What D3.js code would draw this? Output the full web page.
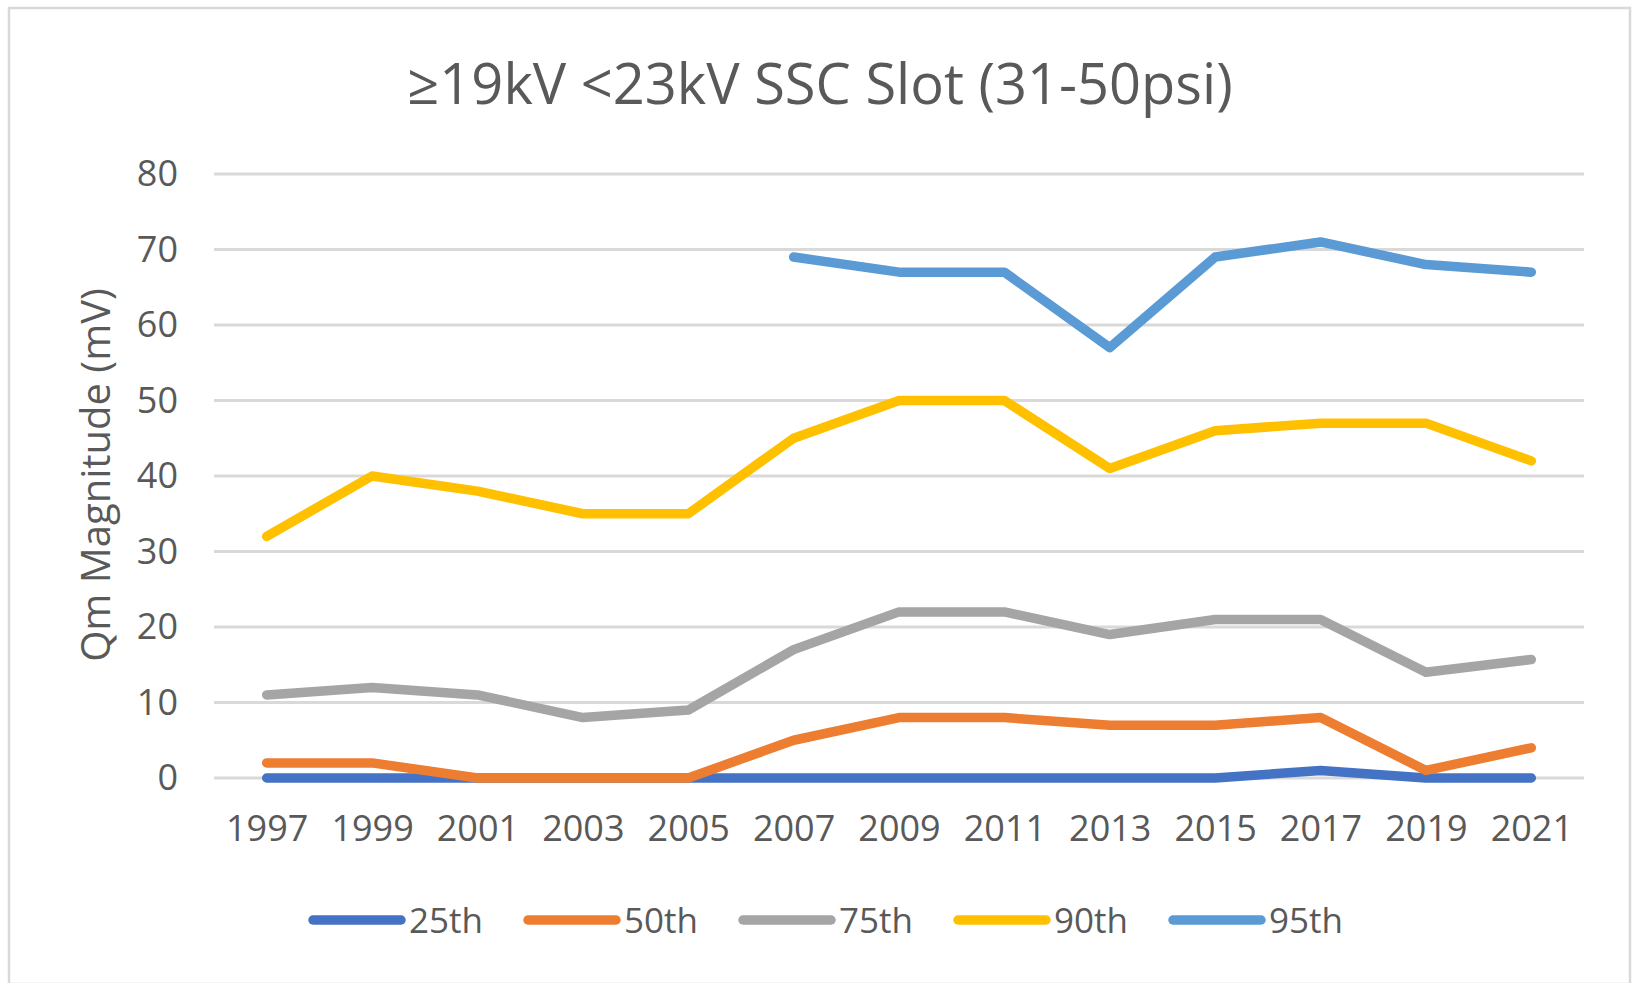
<!DOCTYPE html>
<html>
<head>
<meta charset="UTF-8">
<title>Qm Magnitude</title>
<style>
  body { margin: 0; background: #fff; }
  text { font-family: "Open Sans", "Noto Sans", sans-serif; fill: #595959; }
</style>
</head>
<body>
<svg id="chart" width="1637" height="983"></svg>
<script src="https://d3js.org/d3.v7.min.js"></script>
<script>
// data
var years = ["1997", "1999", "2001", "2003", "2005", "2007", "2009", "2011", "2013", "2015", "2017", "2019", "2021"];
var p25 = [0, 0, 0, 0, 0, 0, 0, 0, 0, 0, 1, 0, 0];
var p50 = [2, 2, 0, 0, 0, 5, 8, 8, 7, 7, 8, 1, 4];
var p75 = [11, 12, 11, 8, 9, 17, 22, 22, 19, 21, 21, 14, 15.7];
var p90 = [32, 40, 38, 35, 35, 45, 50, 50, 41, 46, 47, 47, 42];
var p95 = [null, null, null, null, null, 69, 67, 67, 57, 69, 71, 68, 67];
var seriesNames = ["25th", "50th", "75th", "90th", "95th"];
var colors = ["#4472C4", "#ED7D31", "#A5A5A5", "#FFC000", "#5B9BD5"];
var yTicks = [0, 10, 20, 30, 40, 50, 60, 70, 80];

var allSeries = [p25, p50, p75, p90, p95];

var svg = d3.select("#chart");

// outer frame
svg.append("rect")
  .attr("x", 9).attr("y", 8)
  .attr("width", 1621).attr("height", 976)
  .attr("fill", "none").attr("stroke", "#d9d9d9").attr("stroke-width", 2.5);

var plotLeft = 214, plotRight = 1584, plotTop = 174, plotBottom = 778;

var x = d3.scalePoint().domain(years).range([plotLeft, plotRight]).padding(0.5);
var y = d3.scaleLinear().domain([0, 80]).range([plotBottom, plotTop]);

// title
svg.append("text")
  .attr("x", 820).attr("y", 104)
  .attr("text-anchor", "middle")
  .style("font-size", "56px")
  .text("\u226519kV <23kV SSC Slot (31-50psi)");

// gridlines
svg.append("g").selectAll("line").data(yTicks).enter().append("line")
  .attr("x1", plotLeft).attr("x2", plotRight)
  .attr("y1", function (d) { return y(d); })
  .attr("y2", function (d) { return y(d); })
  .attr("stroke", "#d9d9d9").attr("stroke-width", 3.2);

// y axis labels
var yAxis = d3.axisLeft(y).tickValues(yTicks).tickSize(0).tickPadding(0);
var gy = svg.append("g").attr("transform", "translate(178,0)").call(yAxis);
gy.select(".domain").remove();
gy.selectAll("text")
  .style("font-size", "36px")
  .attr("fill", "#595959")
  .style("font-family", "\"Open Sans\", sans-serif");

// x axis labels
var xAxis = d3.axisBottom(x).tickSize(0).tickPadding(0);
var gx = svg.append("g").attr("transform", "translate(0,815)").call(xAxis);
gx.select(".domain").remove();
gx.selectAll("text")
  .style("font-size", "36px")
  .attr("fill", "#595959")
  .style("font-family", "\"Open Sans\", sans-serif");

// y title
svg.append("text")
  .attr("transform", "translate(110,475) rotate(-90)")
  .attr("text-anchor", "middle")
  .style("font-size", "40px")
  .text("Qm Magnitude (mV)");

// lines
var line = d3.line()
  .defined(function (d) { return d != null; })
  .x(function (d, i) { return x(years[i]); })
  .y(function (d) { return y(d); });

svg.append("g").selectAll("path").data(allSeries).enter().append("path")
  .attr("d", function (d) { return line(d); })
  .attr("fill", "none")
  .attr("stroke", function (d, i) { return colors[i]; })
  .attr("stroke-width", 9.5)
  .attr("stroke-linejoin", "round")
  .attr("stroke-linecap", "round");

// legend
var legend = svg.append("g").selectAll("g").data(seriesNames).enter().append("g")
  .attr("transform", function (d, i) { return "translate(" + (313 + i * 215) + ",920)"; });
legend.append("line")
  .attr("x1", 0).attr("x2", 88)
  .attr("y1", 0).attr("y2", 0)
  .attr("stroke", function (d, i) { return colors[i]; })
  .attr("stroke-width", 9.5)
  .attr("stroke-linecap", "round");
legend.append("text")
  .attr("x", 96).attr("y", 13)
  .style("font-size", "35px")
  .text(function (d) { return d; });
</script>
</body>
</html>
